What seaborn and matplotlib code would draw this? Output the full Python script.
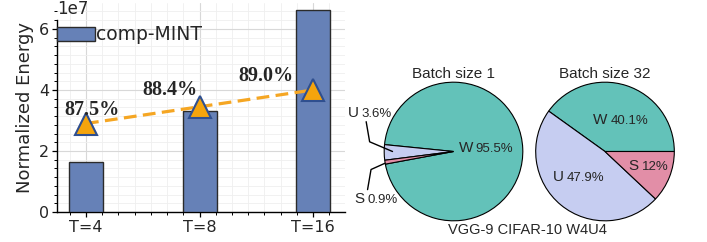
import matplotlib
matplotlib.use("Agg")
import matplotlib.pyplot as plt
import seaborn as sns
import pandas as pd
from matplotlib.ticker import AutoMinorLocator, MultipleLocator

sns.set_theme(style="whitegrid")
plt.rcParams["font.family"] = ["DejaVu Sans"]

# Bar chart data
timesteps = ["T=4", "T=8", "T=16"]
energy = [1.65e7, 3.31e7, 6.62e7]
accuracy = [87.5, 88.4, 89.0]
acc_marker_y = [2.9e7, 3.45e7, 4.0e7]  # where the accuracy markers sit on the energy scale

# Pie data
pie_labels = ["W", "U", "S"]
batch1_share = [95.5, 3.6, 0.9]
batch32_share = [40.1, 47.9, 12.0]
pie_colors = ["#63c2b9", "#c6cdf1", "#e28ea7"]

bars = pd.DataFrame({"T": timesteps, "Energy": energy})

fig = plt.figure(figsize=(7.07, 2.42), dpi=100)

# ---- left: energy bars ----
ax = fig.add_axes([57 / 707, 30 / 242, 288 / 707, 209 / 242])
sns.barplot(data=bars, x="T", y="Energy", color="#6681b7", width=0.3,
            edgecolor="#2b2b2b", linewidth=1, saturation=1, ax=ax,
            label="comp-MINT", zorder=3)
ax.set_xlim(-0.255, 2.28)
ax.set_ylim(0, 6.85e7)
ax.yaxis.set_major_locator(MultipleLocator(2e7))
ax.xaxis.set_minor_locator(AutoMinorLocator(7))
ax.yaxis.set_minor_locator(AutoMinorLocator(7))
ax.grid(which="major", color="#d8d8d8", linewidth=0.8)
ax.grid(which="minor", color="#efefef", linewidth=0.6)
ax.set_axisbelow(True)
for side in ["top", "right"]:
    ax.spines[side].set_visible(False)
for side in ["left", "bottom"]:
    ax.spines[side].set_color("black")
    ax.spines[side].set_linewidth(1.0)
ax.spines["left"].set_bounds(0, 6.3e7)
ax.tick_params(which="major", length=3.5, width=0.9, color="black",
               labelsize=11.5, pad=2, bottom=True, left=True)
ax.tick_params(which="minor", length=2, width=0.7, color="black",
               bottom=True, left=True)
ax.yaxis.get_offset_text().set_visible(False)
ax.set_yticks([0, 2e7, 4e7, 6e7], ["0", "2", "4", "6"])
ax.text(0.0, 0.972, "1e7", transform=ax.transAxes, fontsize=12,
        ha="left", va="center")
ax.set_xlabel("")
ax.set_ylabel("Normalized Energy", fontsize=13, labelpad=4)

ax.plot(range(len(timesteps)), acc_marker_y, linestyle=(0, (4, 2)),
        color="#f5a623", linewidth=2.3, zorder=4)
ax.plot(range(len(timesteps)), acc_marker_y, linestyle="none", marker="^",
        markersize=16.5, markerfacecolor="#f5a40c", markeredgecolor="#2f4f8f",
        markeredgewidth=1.5, zorder=5)
label_offsets = [(4, 10), (-21, 12), (-34, 10)]
for i, (acc, off) in enumerate(zip(accuracy, label_offsets)):
    ax.annotate(f"{acc:.1f}%", (i, acc_marker_y[i]), xytext=off,
                textcoords="offset points", ha="center", va="center",
                fontsize=14.5, fontweight="bold", family="Liberation Serif",
                zorder=6)

ax.legend(loc="center left", bbox_to_anchor=(0, 0.847), frameon=False,
          fontsize=13.5, borderpad=0, borderaxespad=0, handlelength=2.0,
          handleheight=0.75, handletextpad=0.1)

# ---- right: pies ----
pie_font = "Liberation Sans"
# text anchors (baseline, radius units) and leader lines for thin wedges
batch1_text = [(0.30, -0.01), (-1.35, 0.50), (-1.26, -0.75)]
batch32_text = [(0.06, 0.39), (-0.57, -0.42), (0.51, -0.27)]
batch1_leaders = [[(-0.88, 0.0), (-1.21, 0.14), (-1.26, 0.43)],
                  [(-0.99, -0.17), (-1.19, -0.26), (-1.24, -0.55)]]


def draw_pie(rect, shares, startangle, title, text_pos, leaders):
    pax = fig.add_axes(rect)
    pax.pie(shares, colors=pie_colors, startangle=startangle, radius=1,
            wedgeprops=dict(edgecolor="black", linewidth=0.8))
    pax.set_xlim(-1.01, 1.01)
    pax.set_ylim(-1.01, 1.01)
    pax.set_aspect("equal")
    pax.set_title(title, fontsize=11, family=pie_font, pad=2)
    for lab, val, (tx, ty) in zip(pie_labels, shares, text_pos):
        pct = f"{val:.1f}%" if val != 12.0 else "12%"
        pax.text(tx - 0.02, ty, lab, ha="right", va="baseline",
                 fontsize=11, family=pie_font)
        pax.text(tx + 0.02, ty, pct, ha="left", va="baseline",
                 fontsize=9.5, family=pie_font)
    for line in leaders:
        xs, ys = zip(*line)
        pax.plot(xs, ys, color="black", linewidth=1.0, clip_on=False)
    return pax


draw_pie([383.5 / 707, 20.5 / 242, 140 / 707, 140 / 242], batch1_share, 190.5,
         "Batch size 1", batch1_text, batch1_leaders)
draw_pie([535 / 707, 20.5 / 242, 140 / 707, 140 / 242], batch32_share, 0,
         "Batch size 32", batch32_text, [])

fig.text(527.5 / 707, 1 - 230.5 / 242, "VGG-9 CIFAR-10 W4U4", ha="center",
         va="center", fontsize=10.5, family=pie_font)

fig.savefig("out.png", dpi=100)
